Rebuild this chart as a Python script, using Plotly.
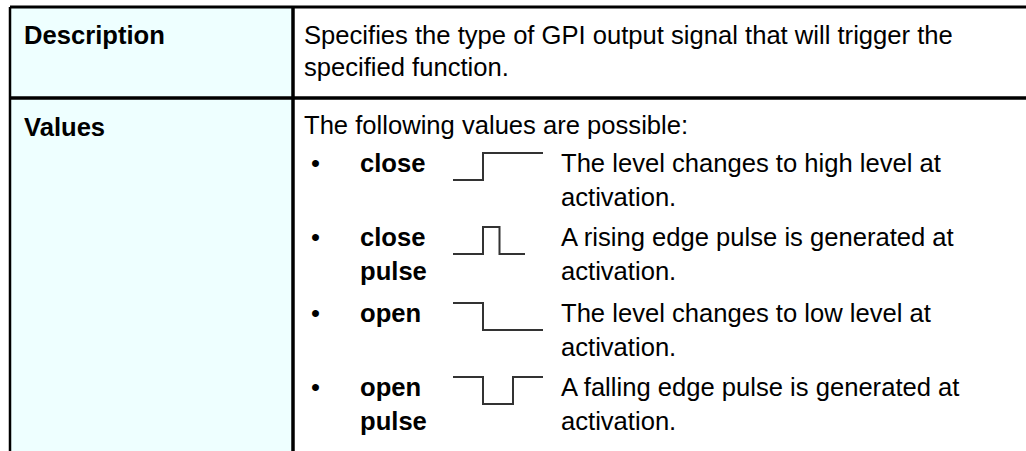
import plotly.graph_objects as go

# ---- data ----
row_labels = ["Description", "Values"]
description_lines = [
    "Specifies the type of GPI output signal that will trigger the",
    "specified function.",
]
values_intro = "The following values are possible:"
value_names = [["close"], ["close", "pulse"], ["open"], ["open", "pulse"]]
value_texts = [
    ["The level changes to high level at", "activation."],
    ["A rising edge pulse is generated at", "activation."],
    ["The level changes to low level at", "activation."],
    ["A falling edge pulse is generated at", "activation."],
]
wave_times = [[0, 1, 3], [0, 1, 1.55, 2.4], [0, 1, 3], [0, 1, 2, 3]]
wave_levels = [[0, 1, 1], [0, 1, 0, 0], [1, 0, 0], [1, 0, 1, 1]]

# ---- layout constants (pixel space) ----
W, H = 1026, 451
FONT = "Liberation Sans, Arial, sans-serif"
FS = 25.6
LEFT, DIV_X, TOP, ROW_Y = 10, 293, 7, 98
LABEL_X, TEXT_X = 22, 302
BULLET_X, NAME_X, WAVE_X, DESC_X = 315, 358, 453, 559
ITEM_Y = [163, 237, 313, 387]
LINE_GAP = 34
UNIT, AMP = 30, 27

fig = go.Figure()

shapes = [
    dict(type="rect", x0=LEFT, x1=DIV_X, y0=TOP, y1=H + 5,
         fillcolor="#EEFFFF", line=dict(width=0), layer="below"),
    dict(type="line", x0=LEFT, x1=W + 5, y0=TOP, y1=TOP, line=dict(color="#000", width=3)),
    dict(type="line", x0=LEFT, x1=W + 5, y0=ROW_Y, y1=ROW_Y, line=dict(color="#000", width=3.5)),
    dict(type="line", x0=LEFT, x1=LEFT, y0=TOP, y1=H + 5, line=dict(color="#000", width=2.5)),
    dict(type="line", x0=DIV_X, x1=DIV_X, y0=TOP, y1=H + 5, line=dict(color="#000", width=3.5)),
]

ann = []
def txt(x, y, s, bold=False):
    ann.append(dict(x=x, y=y, xref="x", yref="y", text=(f"<b>{s}</b>" if bold else s),
                    showarrow=False, xanchor="left", yanchor="middle",
                    font=dict(family=FONT, size=FS, color="#000")))

row_y = [35, 127]
for lbl, y in zip(row_labels, row_y):
    txt(LABEL_X, y, lbl, bold=True)
for i, line in enumerate(description_lines):
    txt(TEXT_X, 35 + i * 32, line)
txt(TEXT_X, 125, values_intro)

for k, y in enumerate(ITEM_Y):
    txt(BULLET_X - 6, y, "•")
    for j, nm in enumerate(value_names[k]):
        txt(NAME_X, y + j * LINE_GAP, nm, bold=True)
    for j, ln in enumerate(value_texts[k]):
        txt(DESC_X, y + j * LINE_GAP, ln)
    base = y + 17
    fig.add_trace(go.Scatter(
        x=[WAVE_X + t * UNIT for t in wave_times[k]],
        y=[base - lv * AMP for lv in wave_levels[k]],
        mode="lines", line=dict(shape="hv", color="#333333", width=2),
        hoverinfo="skip", showlegend=False))

fig.update_layout(
    width=W, height=H, autosize=False,
    margin=dict(l=0, r=0, t=0, b=0),
    paper_bgcolor="white", plot_bgcolor="white",
    xaxis=dict(range=[0, W], visible=False, fixedrange=True),
    yaxis=dict(range=[H, 0], visible=False, fixedrange=True),
    shapes=shapes, annotations=ann, showlegend=False,
)

fig.write_html("out.html", config={"displayModeBar": False},
               post_script="document.body.style.margin='0';")
